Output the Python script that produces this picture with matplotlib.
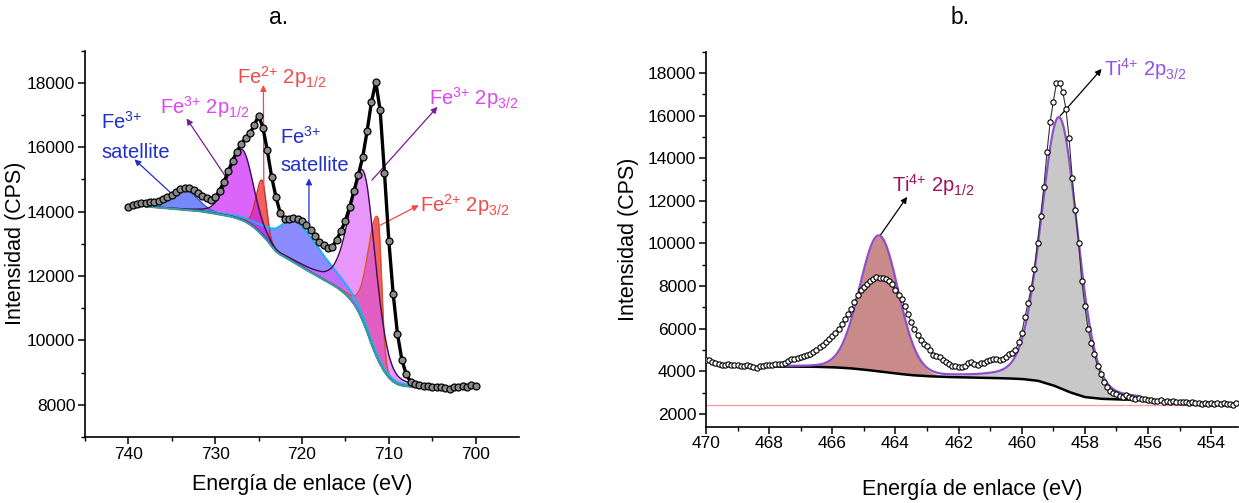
import numpy as np
import matplotlib
matplotlib.use("Agg")
import matplotlib.pyplot as plt

plt.rcParams['font.family'] = ['Liberation Sans', 'DejaVu Sans']
plt.rcParams['mathtext.fontset'] = 'custom'
plt.rcParams['mathtext.rm'] = 'Liberation Sans'
plt.rcParams['mathtext.default'] = 'regular'

# ---------------- Fe 2p spectrum ----------------
fe_energy = np.round(np.arange(740.0, 699.9, -0.5), 1)
fe_counts = [14150, 14200, 14220, 14250, 14270, 14290, 14310, 14340, 14380, 14440,
             14520, 14620, 14700, 14740, 14720, 14660, 14580, 14490, 14410, 14370,
             14440, 14650, 14920, 15250, 15580, 15860, 16100, 16280, 16430, 16680,
             16980, 16600, 15900, 15080, 14450, 13950, 13760, 13780, 13800, 13780,
             13720, 13580, 13420, 13230, 13060, 12950, 12880, 12900, 13130, 13400,
             13720, 14150, 14650, 15150, 15700, 16500, 17400, 18020, 17150, 15200,
             13100, 11450, 10200, 9400, 8950, 8720, 8640, 8600, 8580, 8570,
             8560, 8550, 8550, 8530, 8500, 8560, 8540, 8580, 8560, 8600, 8580]

fe_bg_energy = np.round(np.arange(738.0, 705.9, -0.5), 1)
fe_bg = [14160, 14150, 14135, 14120, 14110, 14100, 14090, 14075, 14065, 14050,
         14040, 14030, 14020, 14000, 13980, 13955, 13935, 13910, 13885, 13860,
         13830, 13790, 13740, 13680, 13600, 13500, 13380, 13240, 13100, 12920,
         12760, 12660, 12590, 12510, 12430, 12350, 12270, 12190, 12110, 12040,
         11960, 11880, 11810, 11730, 11650, 11550, 11440, 11300, 11130, 10900,
         10610, 10270, 9890, 9550, 9265, 9030, 8850, 8720, 8640, 8600,
         8580, 8565, 8555, 8545, 8540]

# fitted components: centre (eV), height above background, half widths
# on the high / low energy side, Lorentzian fraction
fe_comp_names = ['Fe2+ 2p1/2', 'Fe2+ 2p3/2', 'sat1', 'sat2', 'Fe3+ 2p1/2', 'Fe3+ 2p3/2']
fe_center = [724.6, 711.25, 733.6, 720.8, 726.9, 712.85]
fe_height = [1700, 4400, 650, 1300, 2200, 4700]
fe_hw_hi = [0.8, 1.3, 2.2, 2.4, 1.8, 1.9]
fe_hw_lo = [0.6, 0.5, 1.8, 3.8, 1.5, 1.6]
fe_eta = [0.1, 0.1, 0.2, 0.5, 0.2, 0.3]
fe_fill = [(240, 96, 96), (240, 96, 96), (95, 115, 250), (120, 120, 255),
           (205, 34, 248), (220, 94, 248)]
fe_alpha = [1.0, 1.0, 0.85, 0.85, 0.7, 0.65]
fe_edge = ['#c8362c', '#d8502c', '#4a5ab0', '#18b4f0', '#3d0a55', '#3d0a55']

# ---------------- Ti 2p spectrum ----------------
ti_energy = np.round(np.arange(470.0, 453.15, -0.1), 1)
ti_counts = [4530, 4520, 4420, 4370, 4330, 4310, 4290, 4320, 4300, 4280,
             4300, 4270, 4260, 4290, 4240, 4200, 4170, 4240, 4260, 4280,
             4300, 4310, 4330, 4340, 4360, 4400, 4480, 4560, 4600, 4620,
             4650, 4700, 4750, 4820, 4890, 5000, 5120, 5240, 5360, 5500,
             5660, 5820, 5980, 6200, 6450, 6700, 6920, 7250, 7600, 7800,
             7980, 8120, 8250, 8350, 8420, 8400, 8360, 8330, 8250, 8100,
             7800, 7600, 7380, 7050, 6700, 6300, 5980, 5700, 5450, 5300,
             5200, 5000, 4780, 4700, 4650, 4550, 4420, 4330, 4270, 4250,
             4220, 4200, 4240, 4380, 4420, 4330, 4300, 4380, 4400, 4500,
             4540, 4560, 4560, 4540, 4600, 4650, 4790, 4870, 4990, 5360,
             5800, 6530, 7210, 7890, 8810, 10040, 11290, 12650, 14290, 15690,
             16660, 17520, 17520, 17100, 16320, 14950, 13050, 11570, 10040, 8260,
             7050, 5990, 5340, 4790, 4240, 3860, 3500, 3240, 3080, 3000,
             2920, 2850, 2780, 2900, 2800, 2740, 2700, 2730, 2680, 2700,
             2640, 2660, 2620, 2600, 2630, 2580, 2600, 2570, 2590, 2560,
             2580, 2540, 2560, 2510, 2540, 2500, 2530, 2480, 2510, 2470,
             2530, 2480, 2500, 2460, 2490, 2450, 2470, 2440, 2530]

ti_bg_energy = np.round(np.arange(470.0, 455.9, -0.5), 1)
ti_bg = [4260, 4250, 4240, 4235, 4230, 4225, 4220, 4210, 4190, 4150,
         4080, 3990, 3900, 3820, 3770, 3740, 3720, 3700, 3690, 3670,
         3640, 3560, 3340, 3030, 2790, 2710, 2680, 2670, 2660]

ti_center = [464.52, 458.81]
ti_height = [6350, 12700]
ti_hw = [0.72, 0.68]
ti_eta = [0.05, 0.2]
ti_fill = ['#c98a8a', '#c8c8c8']
ti_ref_level = 2420


def peak(x, c, h, w_hi, w_lo, eta):
    w = np.where(x > c, w_hi, w_lo)
    u = (x - c) / w
    return h * ((1 - eta) * np.exp(-np.log(2) * u ** 2) + eta / (1 + u ** 2))


def rgb(c):
    return tuple(v / 255 for v in c)


def style_axes(ax):
    for s in ['top', 'right']:
        ax.spines[s].set_visible(False)
    for s in ['left', 'bottom']:
        ax.spines[s].set_linewidth(1.2)
    ax.tick_params(which='major', direction='out', length=5, width=1.1,
                   labelsize=12.5, pad=2)
    ax.tick_params(which='minor', direction='out', length=3, width=1.0)


def arrow(ax, tail, head, color):
    ax.annotate('', xy=head, xytext=tail,
                arrowprops=dict(arrowstyle='-|>', color=color, lw=0.9,
                                mutation_scale=9, shrinkA=0, shrinkB=0))


fig = plt.figure(figsize=(12.39, 5.03), dpi=100)
ax1 = fig.add_axes([0.0686, 0.1312, 0.3503, 0.7684])
ax2 = fig.add_axes([0.5698, 0.1517, 0.4294, 0.7455])

# ---- panel a ----
xf = np.linspace(738.0, 706.0, 1200)
bgf = np.interp(xf, fe_bg_energy[::-1], fe_bg[::-1])
comps = [peak(xf, fe_center[i], fe_height[i], fe_hw_hi[i], fe_hw_lo[i], fe_eta[i])
         for i in range(len(fe_center))]
for i, comp in enumerate(comps):
    ax1.fill_between(xf, bgf, bgf + comp, color=rgb(fe_fill[i]), alpha=fe_alpha[i],
                     lw=0, zorder=2 + i * 0.1)
for i, comp in enumerate(comps):
    lw = 1.4 if fe_comp_names[i] == 'sat2' else 1.0
    ax1.plot(xf, bgf + comp, color=fe_edge[i], lw=lw, zorder=3)
ax1.plot(fe_bg_energy, fe_bg, color='#3c9aa0', lw=1.6, zorder=3.2)
ax1.plot(fe_energy, fe_counts, color='black', lw=2.4, marker='o', ms=5,
         mfc='#8a8a8a', mec='black', mew=0.9, zorder=4)

ax1.set_xlim(745, 695)
ax1.set_ylim(7000, 19000)
ax1.set_xticks(np.arange(740, 699, -10))
ax1.set_xticks(np.arange(745, 695, -5), minor=True)
ax1.set_yticks(np.arange(8000, 18001, 2000))
ax1.set_yticks(np.arange(7000, 19001, 1000), minor=True)
style_axes(ax1)
ax1.set_xlabel('Energía de enlace (eV)', fontsize=15.5)
ax1.set_ylabel('Intensidad (CPS)', fontsize=15.5)
ax1.xaxis.set_label_coords(0.5, -0.096)
ax1.yaxis.set_label_coords(-0.135, 0.5)

sat_col, fe3_col, fe2_col = '#1f2fcc', '#dc46f0', '#f04a4a'
fe3_arrow = '#7a1a90'
lab = dict(fontsize=14.5, va='center', ha='left', zorder=6)
ax1.text(743.1, 16780, 'Fe$^{3{+}}$', color=sat_col, **lab)
ax1.text(743.1, 15840, 'satellite', color=sat_col, **lab)
arrow(ax1, (735.2, 14600), (739.3, 15620), sat_col)
ax1.text(736.4, 17250, 'Fe$^{3{+}}$ 2p$_{1/2}$', color=fe3_col, **lab)
arrow(ax1, (728.9, 15125), (733.3, 16890), fe3_arrow)
ax1.text(727.5, 18180, 'Fe$^{2{+}}$ 2p$_{1/2}$', color=fe2_col, **lab)
arrow(ax1, (724.4, 14720), (724.45, 17930), fe2_col)
ax1.text(722.5, 16310, 'Fe$^{3{+}}$', color=sat_col, **lab)
ax1.text(722.5, 15440, 'satellite', color=sat_col, **lab)
arrow(ax1, (719.2, 13670), (719.2, 15030), sat_col)
ax1.text(705.4, 17520, 'Fe$^{3{+}}$ 2p$_{3/2}$', color=fe3_col, **lab)
arrow(ax1, (711.95, 14975), (704.4, 17250), fe3_arrow)
ax1.text(706.4, 14190, 'Fe$^{2{+}}$ 2p$_{3/2}$', color=fe2_col, **lab)
arrow(ax1, (711.0, 13575), (706.55, 14195), fe2_col)

# ---- panel b ----
ax2.axhline(ti_ref_level, color='#f2a0a0', lw=1.0, zorder=1)
xt = np.linspace(468.3, 456.3, 800)
bgt = np.interp(xt, ti_bg_energy[::-1], ti_bg[::-1])
env = bgt.copy()
for i in range(len(ti_center)):
    comp = peak(xt, ti_center[i], ti_height[i], ti_hw[i], ti_hw[i], ti_eta[i])
    ax2.fill_between(xt, bgt, bgt + comp, color=ti_fill[i], lw=0, zorder=2)
    env += comp
ax2.plot(xt, bgt, color='black', lw=1.8, zorder=3)
ax2.plot(xt, env, color='#8c50c8', lw=1.6, zorder=3.5)
ti_e = np.array(ti_energy)
ti_c = np.array(ti_counts)
left = ti_e >= 468.3
right = ti_e <= 456.3
ax2.plot(ti_e[left], ti_c[left], color='#8c50c8', lw=1.6, zorder=3.5)
ax2.plot(ti_e[right], ti_c[right], color='#8c50c8', lw=1.6, zorder=3.5)
ax2.plot(ti_e, ti_c, color='#333333', lw=0.8, marker='o', ms=3.8,
         mfc='white', mec='black', mew=0.8, zorder=4)

ax2.set_xlim(470, 453.15)
ax2.set_ylim(1400, 19000)
ax2.set_xticks(np.arange(470, 453, -2))
ax2.set_xticks(np.arange(470, 453, -1), minor=True)
ax2.set_yticks(np.arange(2000, 18001, 2000))
ax2.set_yticks(np.arange(2000, 19001, 1000), minor=True)
style_axes(ax2)
ax2.set_xlabel('Energía de enlace (eV)', fontsize=15.5)
ax2.set_ylabel('Intensidad (CPS)', fontsize=15.5)
ax2.xaxis.set_label_coords(0.5, -0.139)
ax2.yaxis.set_label_coords(-0.126, 0.5)

ax2.text(457.39, 18200, 'Ti$^{4{+}}$ 2p$_{3/2}$', color='#9650e6', **lab)
arrow(ax2, (458.78, 15990), (457.47, 18190), 'black')
ax2.text(464.11, 12734, 'Ti$^{4{+}}$ 2p$_{1/2}$', color='#a0105a', **lab)
arrow(ax2, (464.49, 10360), (463.63, 12187), 'black')

fig.text(279 / 1239, 1 - 18 / 503, 'a.', fontsize=16.5, ha='center', va='center')
fig.text(960 / 1239, 1 - 18 / 503, 'b.', fontsize=16.5, ha='center', va='center')

fig.savefig('out.png', dpi=100)
